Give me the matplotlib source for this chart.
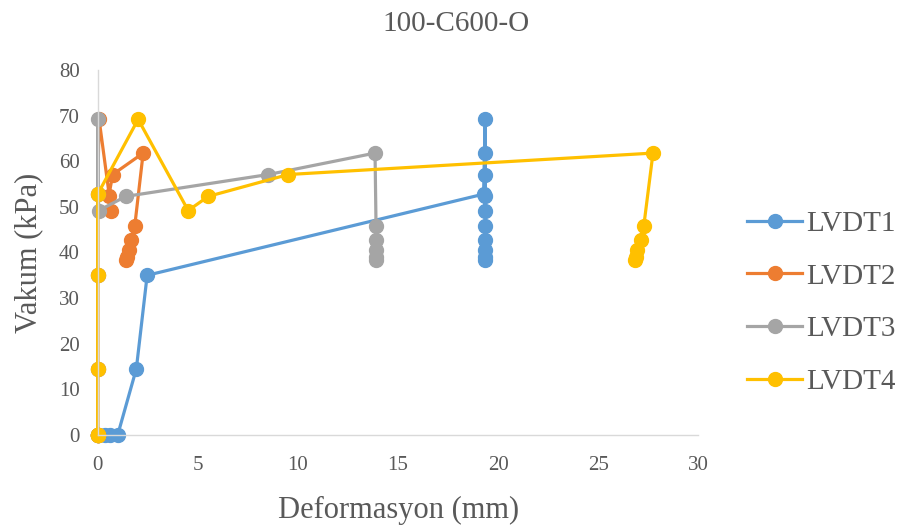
import numpy as np
import matplotlib
matplotlib.use("Agg")
import matplotlib.pyplot as plt

plt.rcParams["font.family"] = ["Liberation Serif", "DejaVu Serif"]

# vacuum readings (kPa), same load steps for every gauge
vakum = [0, 0, 0, 0, 14.5, 35.0, 52.8, 69.2, 49.2, 52.3, 57.1, 61.8,
         45.8, 42.8, 40.5, 39.1, 38.3]

# deformation per gauge (mm)
lvdt1 = [0.0, 0.35, 0.6, 1.0, 1.93, 2.47, 19.27, 19.35, 19.35, 19.35, 19.35,
         19.35, 19.35, 19.35, 19.35, 19.35, 19.35]
lvdt2 = [0.0, 0.0, 0.0, 0.0, 0.0, 0.0, 0.0, 0.07, 0.68, 0.55, 0.75, 2.27,
         1.85, 1.68, 1.57, 1.45, 1.4]
lvdt3 = [0.0, 0.0, 0.0, 0.0, 0.0, 0.0, 0.0, 0.0, 0.05, 1.4, 8.52, 13.85,
         13.9, 13.9, 13.9, 13.9, 13.9]
lvdt4 = [0.0, 0.0, 0.0, 0.0, 0.0, 0.0, 0.0, 2.02, 4.52, 5.52, 9.52, 27.73,
         27.27, 27.13, 26.95, 26.87, 26.85]

series = [("LVDT1", lvdt1, "#5B9BD5"),
          ("LVDT2", lvdt2, "#ED7D31"),
          ("LVDT3", lvdt3, "#A5A5A5"),
          ("LVDT4", lvdt4, "#FFC000")]

fig = plt.figure(figsize=(9.13, 5.31), dpi=100)
ax = fig.add_axes([0.107, 0.181, 0.658, 0.687])

for name, x, c in series:
    ax.plot(x, vakum, color=c, lw=2.3, marker="o", ms=10, mec=c, mfc=c,
            label=name)

ax.set_xlim(0, 30)
ax.set_ylim(0, 80)
ax.set_xticks(np.arange(0, 31, 5))
ax.set_yticks(np.arange(0, 81, 10))
ax.tick_params(length=0, labelsize=15, labelcolor="#595959")
ax.tick_params(axis="y", pad=13)
ax.tick_params(axis="x", pad=15)
for side in ["top", "right"]:
    ax.spines[side].set_visible(False)
for side in ["left", "bottom"]:
    ax.spines[side].set_color("#D9D9D9")
    ax.spines[side].set_linewidth(1.0)
for ln in ax.lines:
    ln.set_clip_on(False)

ax.set_xlabel("Deformasyon (mm)", fontsize=22, color="#595959", labelpad=15)
ax.set_ylabel("Vakum (kPa)", fontsize=22, color="#595959", labelpad=11)
fig.text(0.5, 0.955, "100-C600-O", ha="center", va="center",
         fontsize=21, color="#595959")

leg = fig.legend(handles=ax.lines, loc="center left",
                 bbox_to_anchor=(0.818, 0.43), frameon=False,
                 fontsize=21, handlelength=1.9, handletextpad=0.12,
                 labelspacing=0.9, borderpad=0, borderaxespad=0,
                 labelcolor="#595959")

fig.savefig("out.png", dpi=100)
